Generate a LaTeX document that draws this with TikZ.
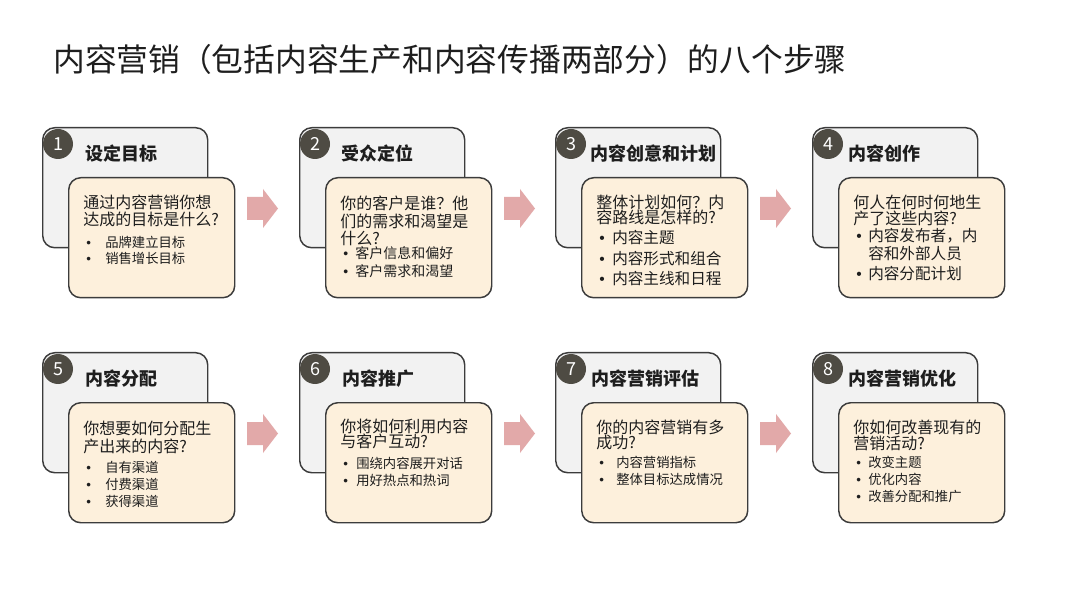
\documentclass[tikz,border=0pt]{standalone}
\usepackage{fontspec}
\setmainfont{Noto Sans CJK SC}
\newfontfamily\latinf{Liberation Sans}
\definecolor{edge}{HTML}{3C3C3C}
\definecolor{backfill}{HTML}{F2F2F2}
\definecolor{frontfill}{HTML}{FDF0DC}
\definecolor{numfill}{HTML}{4E4B43}
\definecolor{arrowfill}{HTML}{E2A9A9}
\definecolor{ink}{HTML}{1E1E1E}
\tikzset{
  backcard/.style={draw=edge, line width=1.1pt, fill=backfill, rounded corners=9pt,
    minimum width=123.75pt, minimum height=90pt, anchor=north west, inner sep=0pt},
  frontcard/.style={backcard, fill=frontfill, minimum width=124.5pt},
  numdisk/.style={circle, fill=numfill, minimum size=22.5pt, inner sep=0pt, text=white,
    font=\fontsize{13.5}{15}\selectfont},
  cardtitle/.style={anchor=west, inner sep=0pt, text=ink, font=\fontsize{13.5}{15}\selectfont\bfseries},
  qline/.style={anchor=west, inner sep=0pt, text=ink, font=\fontsize{12}{13}\selectfont},
  bline/.style={anchor=west, inner sep=0pt, text=ink, font=\fontsize{10}{12}\selectfont},
  blinemid/.style={bline, font=\fontsize{10.5}{12}\selectfont},
  blinebig/.style={bline, font=\fontsize{11.7}{13}\selectfont},
  blockarrow/.style={fill=arrowfill},
  headline/.style={anchor=west, inner sep=0pt, text=ink, font=\fontsize{23.8}{27}\selectfont},
}
\newcommand\bdot[1]{\makebox[#1][l]{\latinf •}}
\newcommand\pinkarrow[1]{%
  \fill[blockarrow] (205,70) coordinate (#1) -- (221,70) -- (221,62) -- (236,81.5)
    -- (221,101) -- (221,93) -- (205,93) -- cycle;}
\begin{document}
\begin{tikzpicture}[x=0.75pt, y=-0.75pt]
\path[use as bounding box, fill=white] (0,0) rectangle (1080,605);

\node[headline] (head) at (53,59) {内容营销（包括内容生产和内容传播两部分）的八个步骤};

% ---------- card 1 ----------
\begin{scope}[shift={(42,127)}]
  \node[backcard] (c1b) at (0,0) {};
  \node[frontcard] (c1f) at (26,50) {};
  \node[numdisk] (c1n) at (16,17) {1};
  \node[cardtitle] (c1t) at (43,27) {设定目标};
  \node[qline] (c1q1) at (41,75) {通过内容营销你想};
  \node[qline] (c1q2) at (41,92) {达成的目标是什么?};
  \node[bline] (c1p1) at (44,115) {\bdot{14.25pt}品牌建立目标};
  \node[bline] (c1p2) at (44,131) {\bdot{14.25pt}销售增长目标};
  \pinkarrow{a12}
\end{scope}

% ---------- card 2 ----------
\begin{scope}[shift={(299,127)}]
  \node[backcard] (c2b) at (0,0) {};
  \node[frontcard] (c2f) at (26,50) {};
  \node[numdisk] (c2n) at (16,17) {2};
  \node[cardtitle] (c2t) at (42,27) {受众定位};
  \node[qline] (c2q1) at (41,76) {你的客户是谁？他};
  \node[qline] (c2q2) at (41,94) {们的需求和渴望是};
  \node[qline] (c2q3) at (41,111) {什么?};
  \node[blinemid] (c2p1) at (44,126) {\bdot{9pt}客户信息和偏好};
  \node[blinemid] (c2p2) at (44,144) {\bdot{9pt}客户需求和渴望};
  \pinkarrow{a23}
\end{scope}

% ---------- card 3 ----------
\begin{scope}[shift={(555,127)}]
  \node[backcard] (c3b) at (0,0) {};
  \node[frontcard] (c3f) at (26,50) {};
  \node[numdisk] (c3n) at (16,17) {3};
  \node[cardtitle] (c3t) at (35,27) {内容创意和计划};
  \node[qline] (c3q1) at (41,75) {整体计划如何？内};
  \node[qline] (c3q2) at (41,90) {容路线是怎样的?};
  \node[blinebig] (c3p1) at (44,111) {\bdot{9.75pt}内容主题};
  \node[blinebig] (c3p2) at (44,132) {\bdot{9.75pt}内容形式和组合};
  \node[blinebig] (c3p3) at (44,152) {\bdot{9.75pt}内容主线和日程};
  \pinkarrow{a34}
\end{scope}

% ---------- card 4 ----------
\begin{scope}[shift={(812,127)}]
  \node[backcard] (c4b) at (0,0) {};
  \node[frontcard] (c4f) at (26,50) {};
  \node[numdisk] (c4n) at (16,17) {4};
  \node[cardtitle] (c4t) at (36,27) {内容创作};
  \node[qline] (c4q1) at (41,75) {何人在何时何地生};
  \node[qline] (c4q2) at (41,91) {产了这些内容?};
  \node[blinebig] (c4p1) at (44,109) {\bdot{9pt}内容发布者，内};
  \node[blinebig] (c4p1b) at (44,127) {\makebox[9pt]{}容和外部人员};
  \node[blinebig] (c4p2) at (44,147) {\bdot{9pt}内容分配计划};
\end{scope}

% ---------- card 5 ----------
\begin{scope}[shift={(42,352)}]
  \node[backcard] (c5b) at (0,0) {};
  \node[frontcard] (c5f) at (26,50) {};
  \node[numdisk] (c5n) at (16,17) {5};
  \node[cardtitle] (c5t) at (43,27) {内容分配};
  \node[qline] (c5q1) at (41,76) {你想要如何分配生};
  \node[qline] (c5q2) at (41,94) {产出来的内容?};
  \node[bline] (c5p1) at (44,115) {\bdot{14.25pt}自有渠道};
  \node[bline] (c5p2) at (44,132) {\bdot{14.25pt}付费渠道};
  \node[bline] (c5p3) at (44,149) {\bdot{14.25pt}获得渠道};
  \pinkarrow{a56}
\end{scope}

% ---------- card 6 ----------
\begin{scope}[shift={(299,352)}]
  \node[backcard] (c6b) at (0,0) {};
  \node[frontcard] (c6f) at (26,50) {};
  \node[numdisk] (c6n) at (16,17) {6};
  \node[cardtitle] (c6t) at (43,27) {内容推广};
  \node[qline] (c6q1) at (41,74) {你将如何利用内容};
  \node[qline] (c6q2) at (41,89) {与客户互动?};
  \node[bline] (c6p1) at (44,111) {\bdot{9.75pt}围绕内容展开对话};
  \node[bline] (c6p2) at (44,128) {\bdot{9.75pt}用好热点和热词};
  \pinkarrow{a67}
\end{scope}

% ---------- card 7 ----------
\begin{scope}[shift={(555,352)}]
  \node[backcard] (c7b) at (0,0) {};
  \node[frontcard] (c7f) at (26,50) {};
  \node[numdisk] (c7n) at (16,17) {7};
  \node[cardtitle] (c7t) at (36,27) {内容营销评估};
  \node[qline] (c7q1) at (41,75) {你的内容营销有多};
  \node[qline] (c7q2) at (41,90) {成功?};
  \node[bline] (c7p1) at (44,110.5) {\bdot{12.75pt}内容营销指标};
  \node[bline] (c7p2) at (44,127) {\bdot{12.75pt}整体目标达成情况};
  \pinkarrow{a78}
\end{scope}

% ---------- card 8 ----------
\begin{scope}[shift={(812,352)}]
  \node[backcard] (c8b) at (0,0) {};
  \node[frontcard] (c8f) at (26,50) {};
  \node[numdisk] (c8n) at (16,17) {8};
  \node[cardtitle] (c8t) at (36,27) {内容营销优化};
  \node[qline] (c8q1) at (41,75) {你如何改善现有的};
  \node[qline] (c8q2) at (41,91) {营销活动?};
  \node[bline] (c8p1) at (44,110.5) {\bdot{9pt}改变主题};
  \node[bline] (c8p2) at (44,127) {\bdot{9pt}优化内容};
  \node[bline] (c8p3) at (44,144) {\bdot{9pt}改善分配和推广};
\end{scope}
\end{tikzpicture}
\end{document}
